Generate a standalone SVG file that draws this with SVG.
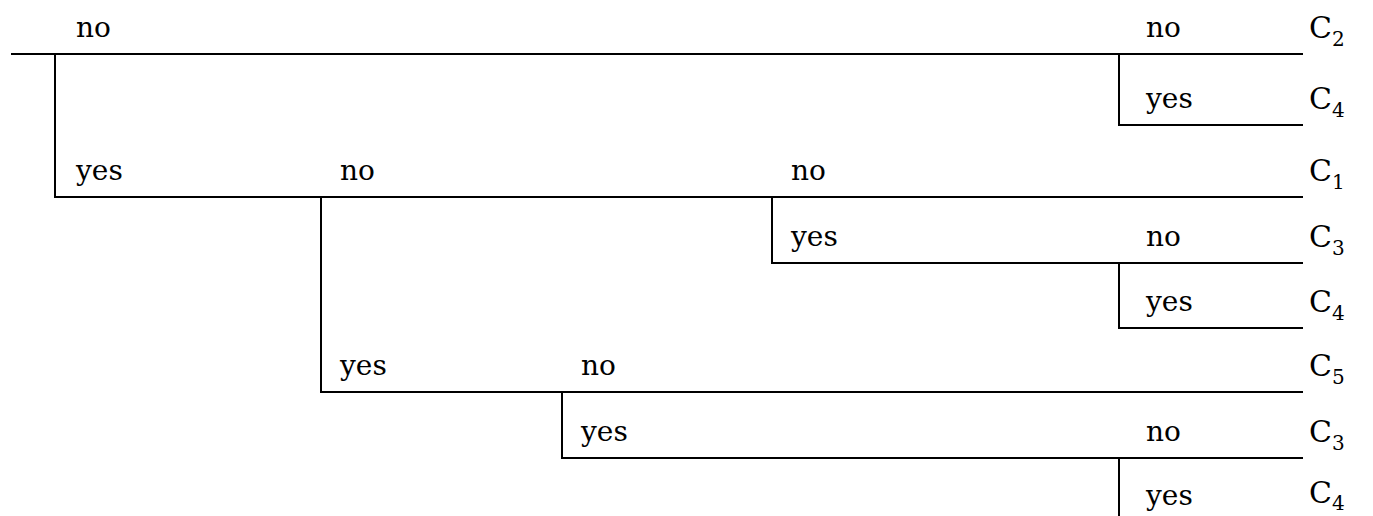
<svg xmlns="http://www.w3.org/2000/svg" width="1373" height="516" viewBox="0 0 1373 516">
<style>
.ln{stroke:#000;stroke-width:2;fill:none;stroke-linecap:square}
.t{font-family:"DejaVu Serif","Liberation Serif",serif;font-size:28px;fill:#000}
.c{font-size:30px}
.s{font-size:20px}
</style>
<rect width="1373" height="516" fill="#fff"/>
<g id="connectors">
<path class="ln" d="M12,54H1302M55,54V197H1302"/>
<path class="ln" d="M1119,54V125H1302"/>
<path class="ln" d="M321,197V392H1302"/>
<path class="ln" d="M772,197V263H1302"/>
<path class="ln" d="M1119,263V328H1302"/>
<path class="ln" d="M562,392V458H1302"/>
<path class="ln" d="M1119,458V520"/>
</g>
<g id="labels">
<text class="t" x="76" y="37">no</text>
<text class="t" x="76" y="180">yes</text>
<text class="t" x="1146" y="37">no</text>
<text class="t" x="1146" y="108">yes</text>
<text class="t" x="340" y="180">no</text>
<text class="t" x="340" y="375">yes</text>
<text class="t" x="791" y="180">no</text>
<text class="t" x="791" y="246">yes</text>
<text class="t" x="1146" y="246">no</text>
<text class="t" x="1146" y="311">yes</text>
<text class="t" x="581" y="375">no</text>
<text class="t" x="581" y="441">yes</text>
<text class="t" x="1146" y="441">no</text>
<text class="t" x="1146" y="505">yes</text>
</g>
<g id="leaf-1"><text class="t c" x="1309" y="38">C<tspan class="s" dy="8">2</tspan></text></g>
<g id="leaf-2"><text class="t c" x="1309" y="109">C<tspan class="s" dy="8">4</tspan></text></g>
<g id="leaf-3"><text class="t c" x="1309" y="181">C<tspan class="s" dy="8">1</tspan></text></g>
<g id="leaf-4"><text class="t c" x="1309" y="247">C<tspan class="s" dy="8">3</tspan></text></g>
<g id="leaf-5"><text class="t c" x="1309" y="312">C<tspan class="s" dy="8">4</tspan></text></g>
<g id="leaf-6"><text class="t c" x="1309" y="376">C<tspan class="s" dy="8">5</tspan></text></g>
<g id="leaf-7"><text class="t c" x="1309" y="442">C<tspan class="s" dy="8">3</tspan></text></g>
<g id="leaf-8"><text class="t c" x="1309" y="503">C<tspan class="s" dy="7">4</tspan></text></g>
</svg>
